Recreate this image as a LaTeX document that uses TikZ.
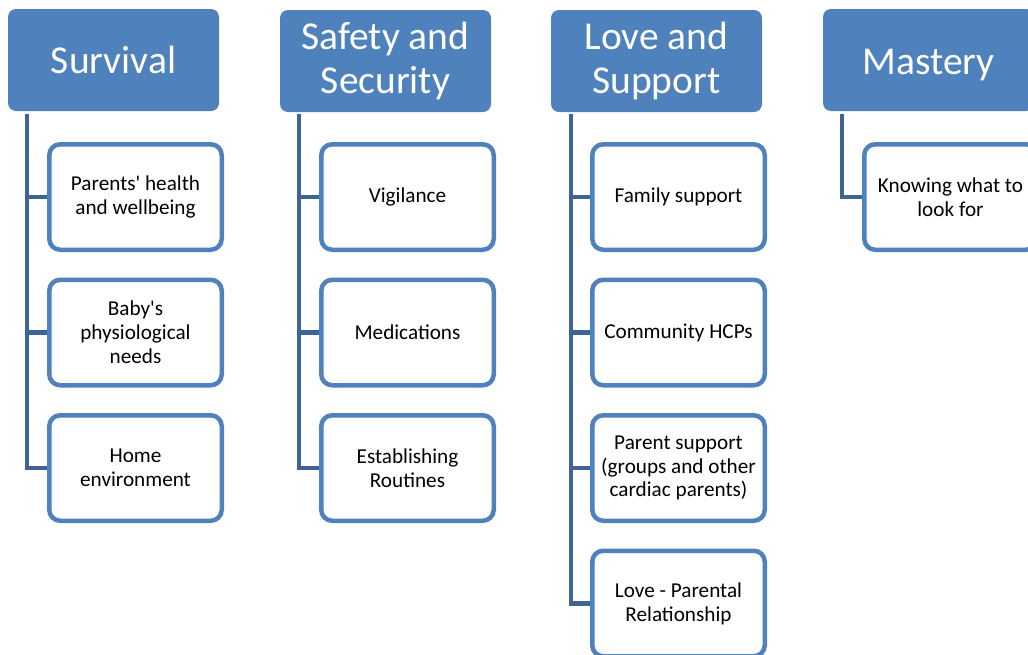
\documentclass[tikz,border=0pt]{standalone}
\usepackage{fontspec}
\setmainfont{Carlito}
\definecolor{hdr}{RGB}{79,129,189}
\definecolor{bord}{RGB}{79,129,189}
\definecolor{conn}{RGB}{62,100,150}
\tikzset{
  hdrbox/.style={fill=hdr, rounded corners=8pt, minimum width=211pt, minimum height=102pt, inner sep=0pt,
    text=white, align=center, font=\fontsize{39.5}{44}\selectfont},
  childbox/.style={draw=bord, line width=4.5pt, fill=white, rounded corners=11pt, minimum width=172.5pt,
    minimum height=105.5pt, inner sep=0pt, align=center, font=\fontsize{21.2}{23.8}\selectfont},
  connline/.style={draw=conn, line width=4.5pt},
}
\begin{document}
\begin{tikzpicture}[x=1pt,y=-1pt]
\useasboundingbox (0,0) rectangle (1028,654);
\clip (0,0) rectangle (1028,654);
\fill[white] (0,0) rectangle (1028,654);
% headers
\node[hdrbox] (h1) at (113.5,60) {Survival};
\node[hdrbox] (h2) at (385.5,61) {Safety and\\Security};
\node[hdrbox] (h3) at (656.5,61) {Love and\\Support};
\node[hdrbox, text height=28pt, text depth=0pt] (h4) at (928.5,60) {Mastery};
% column spine tops
\coordinate (t1) at (27,114);
\coordinate (t2) at (299,114);
\coordinate (t3) at (571,114);
\coordinate (t4) at (842,114);
% children
\node[childbox] (a1) at (135.5,197) {Parents\textquotesingle\ health\\and wellbeing};
\node[childbox] (a2) at (135.5,332.5) {Baby\textquotesingle s\\physiological\\needs};
\node[childbox] (a3) at (135.5,468) {Home\\environment};
\node[childbox] (b1) at (407.5,197) {Vigilance};
\node[childbox] (b2) at (407.5,332.5) {Medications};
\node[childbox] (b3) at (407.5,468) {Establishing\\Routines};
\node[childbox] (c1) at (678.5,197) {Family support};
\node[childbox] (c2) at (678.5,332.5) {Community HCPs};
\node[childbox] (c3) at (678.5,468) {Parent support\\(groups and other\\cardiac parents)};
\node[childbox] (c4) at (678.5,603.5) {Love - Parental\\Relationship};
\node[childbox] (d1) at (950.5,197) {Knowing what to\\look for};
% connectors
\draw[connline] (t1) |- (a1.west);
\draw[connline] (t1) |- (a2.west);
\draw[connline] (t1) |- (a3.west);
\draw[connline] (t2) |- (b1.west);
\draw[connline] (t2) |- (b2.west);
\draw[connline] (t2) |- (b3.west);
\draw[connline] (t3) |- (c1.west);
\draw[connline] (t3) |- (c2.west);
\draw[connline] (t3) |- (c3.west);
\draw[connline] (t3) |- (c4.west);
\draw[connline] (t4) |- (d1.west);
\end{tikzpicture}
\end{document}
